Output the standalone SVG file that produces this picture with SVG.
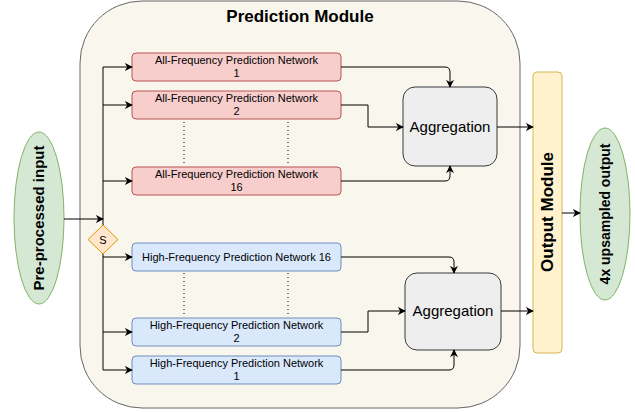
<svg xmlns="http://www.w3.org/2000/svg" width="635" height="412" viewBox="0 0 635 412">
<defs>
<marker id="arr" viewBox="0 0 10 10" refX="9" refY="5" markerWidth="8" markerHeight="8" markerUnits="userSpaceOnUse" orient="auto">
<path d="M0,0 L10,5 L0,10 L3,5 z" fill="#000"/>
</marker>
<style>
.t{font-family:"Liberation Sans",Arial,sans-serif;fill:#000;}
.b{font-weight:bold;}
.af{fill:#f8cecc;stroke:#b85450;stroke-width:1;}
.hf{fill:#dae8fc;stroke:#6c8ebf;stroke-width:1;}
.ag{fill:#eeeeee;stroke:#36393d;stroke-width:1;}
.el{fill:#d5e8d4;stroke:#82b366;stroke-width:1;}
.c{fill:none;stroke:#000;stroke-width:1;}
.ca{fill:none;stroke:#000;stroke-width:1;marker-end:url(#arr);}
.dot{fill:none;stroke:#000;stroke-width:1;stroke-dasharray:1 3;}
</style>
</defs>
<rect width="635" height="412" fill="#ffffff"/>
<g id="prediction-module">
<rect x="80" y="1" width="440" height="407" rx="62" fill="#f9f7ed" stroke="#666666" stroke-width="1"/>
<text class="t b" x="300" y="22" font-size="17" text-anchor="middle">Prediction Module</text>
</g>
<g id="input">
<ellipse class="el" cx="39" cy="218" rx="25" ry="86"/>
<text class="t b" font-size="15" text-anchor="middle" transform="translate(44,218) rotate(-90)">Pre-processed input</text>
</g>
<g id="switch">
<path d="M103,225 L118,239.5 L103,254 L88,239.5 z" fill="#ffe6cc" stroke="#d79b00" stroke-width="1"/>
<text class="t" x="103" y="244" font-size="11" text-anchor="middle">S</text>
</g>
<g id="af1">
<rect class="af" x="132" y="53" width="209" height="28" rx="4"/>
<text class="t" x="236.5" y="64" font-size="11" text-anchor="middle">All-Frequency Prediction Network</text>
<text class="t" x="236.5" y="77" font-size="11" text-anchor="middle">1</text>
</g>
<g id="af2">
<rect class="af" x="132" y="91" width="209" height="28" rx="4"/>
<text class="t" x="236.5" y="102" font-size="11" text-anchor="middle">All-Frequency Prediction Network</text>
<text class="t" x="236.5" y="115" font-size="11" text-anchor="middle">2</text>
</g>
<g id="af16">
<rect class="af" x="132" y="167" width="209" height="28" rx="4"/>
<text class="t" x="236.5" y="178" font-size="11" text-anchor="middle">All-Frequency Prediction Network</text>
<text class="t" x="236.5" y="191" font-size="11" text-anchor="middle">16</text>
</g>
<g id="hf16">
<rect class="hf" x="132" y="243" width="209" height="28" rx="4"/>
<text class="t" x="236.5" y="261" font-size="11" text-anchor="middle">High-Frequency Prediction Network 16</text>
</g>
<g id="hf2">
<rect class="hf" x="132" y="318" width="209" height="28" rx="4"/>
<text class="t" x="236.5" y="329" font-size="11" text-anchor="middle">High-Frequency Prediction Network</text>
<text class="t" x="236.5" y="342" font-size="11" text-anchor="middle">2</text>
</g>
<g id="hf1">
<rect class="hf" x="132" y="356" width="209" height="28" rx="4"/>
<text class="t" x="236.5" y="367" font-size="11" text-anchor="middle">High-Frequency Prediction Network</text>
<text class="t" x="236.5" y="380" font-size="11" text-anchor="middle">1</text>
</g>
<g id="aggregation1">
<rect class="ag" x="403" y="87" width="94" height="79" rx="12"/>
<text class="t" x="450" y="132" font-size="15" text-anchor="middle">Aggregation</text>
</g>
<g id="aggregation2">
<rect class="ag" x="405" y="273" width="96" height="77" rx="12"/>
<text class="t" x="453" y="316" font-size="15" text-anchor="middle">Aggregation</text>
</g>
<g id="output-module">
<rect x="533" y="72" width="29" height="281" rx="4" fill="#fff2cc" stroke="#d6b656" stroke-width="1"/>
<text class="t b" font-size="17" text-anchor="middle" transform="translate(553,212) rotate(-90)">Output Module</text>
</g>
<g id="output">
<ellipse class="el" cx="605" cy="214" rx="25" ry="86"/>
<text class="t b" font-size="14" text-anchor="middle" transform="translate(610,214) rotate(-90)">4x upsampled output</text>
</g>
<g id="connectors">
<path class="ca" d="M64,219 L103,219"/>
<path class="c" d="M103,225 L103,67"/>
<path class="ca" d="M103,67 L132,67"/>
<path class="ca" d="M103,105 L132,105"/>
<path class="ca" d="M103,181 L132,181"/>
<path class="c" d="M103,254 L103,370"/>
<path class="ca" d="M103,257 L132,257"/>
<path class="ca" d="M103,332 L132,332"/>
<path class="ca" d="M103,370 L132,370"/>
<path class="dot" d="M184,122 L184,166"/>
<path class="dot" d="M288,122 L288,166"/>
<path class="dot" d="M184,273 L184,317"/>
<path class="dot" d="M288,273 L288,317"/>
<path class="ca" d="M341,67 L445,67 Q450,67 450,72 L450,87"/>
<path class="ca" d="M341,105 L368,105 L368,127 L403,127"/>
<path class="ca" d="M341,181 L445,181 Q450,181 450,176 L450,166"/>
<path class="ca" d="M497,127 L533,127"/>
<path class="ca" d="M341,257 L449,257 Q454,257 454,262 L454,273"/>
<path class="ca" d="M341,332 L368,332 L368,311 L405,311"/>
<path class="ca" d="M341,370 L449,370 Q454,370 454,365 L454,350"/>
<path class="ca" d="M501,311 L533,311"/>
<path class="ca" d="M562,213 L580,213"/>
</g>
</svg>
